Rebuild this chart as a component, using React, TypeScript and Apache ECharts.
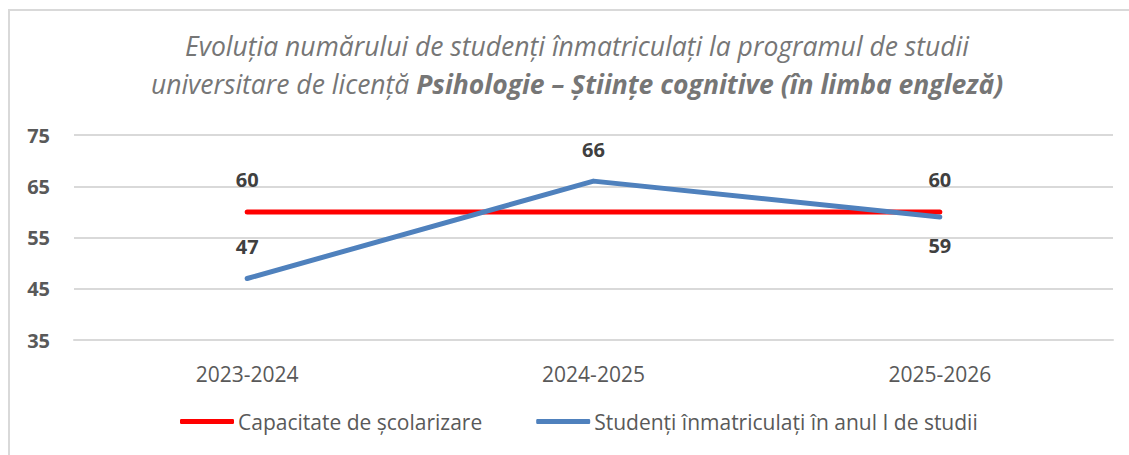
import React, { useEffect, useRef } from "react";
import * as echarts from "echarts";

const categories = ["2023-2024", "2024-2025", "2025-2026"];
const capacity = [60, 60, 60];
const enrolled = [47, 66, 59];
const capacityLabelShown = [true, false, true];
const enrolledLabelPos = ["top", "top", "bottom"];
const yTicks = { min: 35, max: 75, interval: 10 };
const seriesNames = ["Capacitate de școlarizare", "Studenți înmatriculați în anul I de studii"];
const titleLine1 = "Evoluția numărului de studenți înmatriculați la programul de studii";
const titleLine2a = "universitare de licență ";
const titleLine2b = "Psihologie – Științe cognitive (în limba engleză)";

const FONT = "Open Sans";

export default function App() {
  const ref = useRef<HTMLDivElement>(null);
  useEffect(() => {
    document.body.style.margin = "0";
    const chart = echarts.init(ref.current!, null, { renderer: "svg" });
    chart.setOption({
      animation: false,
      backgroundColor: "#ffffff",
      textStyle: { fontFamily: FONT },
      title: {
        left: 577,
        top: 27,
        padding: 0,
        textAlign: "center",
        text: `{i|${titleLine1}}\n{i|${titleLine2a}}{b|${titleLine2b}}`,
        textStyle: {
          fontWeight: "normal",
          rich: {
            i: { fontFamily: FONT, fontSize: 26.5, fontStyle: "italic", fontWeight: "normal", color: "#767676", lineHeight: 38 },
            b: { fontFamily: FONT, fontSize: 26.5, fontStyle: "italic", fontWeight: "bold", color: "#767676", lineHeight: 38 },
          },
        },
      },
      graphic: [
        {
          type: "rect",
          shape: { x: 9, y: 10, width: 1130, height: 460 },
          style: { fill: "none", stroke: "#d9d9d9", lineWidth: 2 },
          silent: true,
        },
      ],
      legend: {
        left: 180,
        top: 411,
        padding: 0,
        itemWidth: 54,
        itemHeight: 5,
        itemGap: 54,
        icon: "roundRect",
        textStyle: { fontFamily: FONT, fontSize: 21, color: "#595959", padding: [0, 0, 0, -1] },
        data: seriesNames,
      },
      grid: { left: 74, right: 16, top: 135, bottom: 115 },
      xAxis: {
        type: "category",
        data: categories,
        boundaryGap: true,
        axisLine: { show: true, lineStyle: { color: "#d9d9d9", width: 2 } },
        axisTick: { show: false },
        axisLabel: { fontFamily: FONT, fontSize: 21, color: "#595959", margin: 23 },
      },
      yAxis: {
        type: "value",
        min: yTicks.min,
        max: yTicks.max,
        interval: yTicks.interval,
        axisLine: { show: false },
        axisTick: { show: false },
        splitLine: { lineStyle: { color: "#d9d9d9", width: 2 } },
        axisLabel: { fontFamily: FONT, fontSize: 20, fontWeight: "bold", color: "#595959", margin: 24 },
      },
      series: [
        {
          name: seriesNames[0],
          type: "line",
          data: capacity.map((v, i) => ({
            value: v,
            label: { show: capacityLabelShown[i] },
          })),
          showSymbol: true,
          symbol: "circle",
          symbolSize: 2,
          lineStyle: { color: "#ff0000", width: 5, cap: "round" },
          itemStyle: { color: "#ff0000" },
          label: {
            show: false,
            position: "top",
            distance: 21,
            fontFamily: FONT,
            fontSize: 20,
            fontWeight: "bold",
            color: "#404040",
          },
        },
        {
          name: seriesNames[1],
          type: "line",
          data: enrolled.map((v, i) => ({
            value: v,
            label: { show: true, position: enrolledLabelPos[i], distance: enrolledLabelPos[i] === "top" ? 21 : 17 },
          })),
          showSymbol: true,
          symbol: "circle",
          symbolSize: 2,
          lineStyle: { color: "#4f81bd", width: 5, cap: "round", join: "round" },
          itemStyle: { color: "#4f81bd" },
          label: {
            show: true,
            fontFamily: FONT,
            fontSize: 20,
            fontWeight: "bold",
            color: "#404040",
          },
        },
      ],
    });
    return () => chart.dispose();
  }, []);
  return <div ref={ref} style={{ width: 1129, height: 455 }} />;
}
